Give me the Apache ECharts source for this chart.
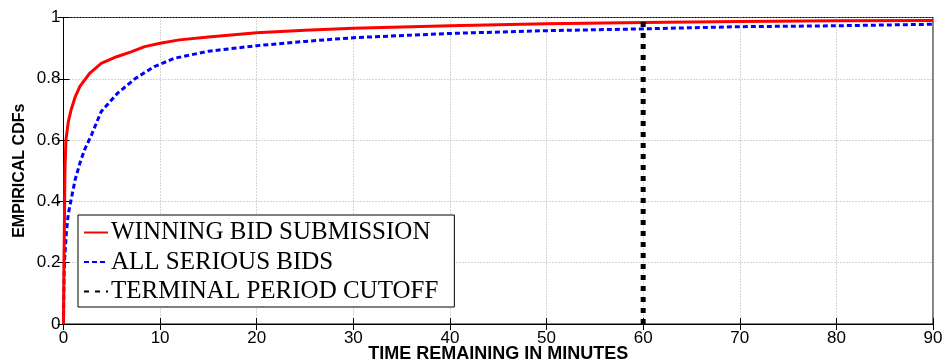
<!DOCTYPE html>
<html>
<head>
<meta charset="utf-8">
<script src="https://cdn.jsdelivr.net/npm/echarts@6/dist/echarts.min.js"></script>
<style>html,body{margin:0;padding:0;background:#fff}#c{width:946px;height:362px}</style>
</head>
<body>
<div id="c"></div>
<script>
// Data
const xTicks = [0, 10, 20, 30, 40, 50, 60, 70, 80, 90];
const yTicks = [0, 0.2, 0.4, 0.6, 0.8, 1];
const winningX = [0, 0.05, 0.1, 0.15, 0.25, 0.5, 0.8, 1.2, 1.7, 2.7, 3.9, 5.5, 7, 8.4, 10, 12, 15, 20, 25, 30, 40, 50, 60, 70, 80, 90];
const winningY = [0, 0.2, 0.35, 0.5, 0.6, 0.66, 0.7, 0.74, 0.775, 0.818, 0.85, 0.872, 0.888, 0.905, 0.916, 0.927, 0.936, 0.95, 0.958, 0.965, 0.973, 0.98, 0.984, 0.987, 0.989, 0.99];
const allBidsX = [0, 0.05, 0.1, 0.3, 0.5, 0.75, 1.2, 1.7, 2.2, 2.9, 3.9, 5.6, 7.4, 9.4, 11.5, 15, 20, 25, 30, 40, 50, 60, 70, 80, 90];
const allBidsY = [0, 0.15, 0.2, 0.3, 0.36, 0.4, 0.47, 0.525, 0.57, 0.617, 0.693, 0.753, 0.8, 0.84, 0.867, 0.89, 0.908, 0.922, 0.934, 0.948, 0.957, 0.963, 0.97, 0.973, 0.978];
const cutoffX = [60, 60];
const cutoffY = [0, 1];
const seriesNames = ['WINNING BID SUBMISSION', 'ALL SERIOUS BIDS', 'TERMINAL PERIOD CUTOFF'];
const xName = 'TIME REMAINING IN MINUTES';
const yName = 'EMPIRICAL CDFs';

const zip = (a, b) => a.map((v, i) => [v, b[i]]);
const chart = echarts.init(document.getElementById('c'), null, {renderer: 'canvas'});
const labelFont = {fontFamily: 'Liberation Sans, Arial, sans-serif', fontSize: 17, color: '#000'};
const dotted = {show: true, lineStyle: {color: '#aaaaaa', type: [1, 2], width: 1}};
chart.setOption({
  animation: false,
  grid: {left: 63.5, right: 13, top: 17.5, bottom: 38, show: true, borderColor: '#000', borderWidth: 1, outerBoundsMode: 'none', containLabel: false},
  legend: {
    orient: 'vertical', left: 78, top: 215,
    backgroundColor: '#fff', borderColor: '#000', borderWidth: 1,
    padding: [5, 16, 3, 5], itemGap: 4.5, itemWidth: 24, itemHeight: 20,
    itemStyle: {opacity: 0},
    textStyle: {fontFamily: 'Liberation Serif, Times New Roman, serif', fontSize: 25, color: '#000', padding: [0, 0, 0, -2]},
    data: seriesNames
  },
  xAxis: [{
    type: 'value', min: 0, max: 90, interval: 10, position: 'bottom',
    name: xName, nameLocation: 'middle', nameGap: 21, nameMoveOverlap: false,
    nameTextStyle: {fontFamily: 'Liberation Sans, Arial, sans-serif', fontSize: 18, fontWeight: 'bold', color: '#000'},
    axisLine: {lineStyle: {color: '#000', width: 1}},
    axisTick: {inside: true, length: 6, lineStyle: {color: '#000'}},
    axisLabel: Object.assign({margin: 6, formatter: v => xTicks.includes(v) ? String(v) : ''}, labelFont),
    splitLine: dotted
  }, {
    type: 'value', min: 0, max: 90, interval: 10, position: 'top',
    axisLine: {lineStyle: {color: '#000'}},
    axisTick: {inside: true, length: 6, lineStyle: {color: '#000'}},
    axisLabel: {show: false}, splitLine: {show: false}
  }],
  yAxis: [{
    type: 'value', min: 0, max: 1, interval: 0.2, position: 'left',
    name: yName, nameLocation: 'middle', nameGap: 36, nameMoveOverlap: false,
    nameTextStyle: {fontFamily: 'Liberation Sans, Arial, sans-serif', fontSize: 16, fontWeight: 'bold', color: '#000'},
    axisLine: {show: true, lineStyle: {color: '#000', width: 1}},
    axisTick: {show: true, inside: true, length: 6, lineStyle: {color: '#000'}},
    axisLabel: Object.assign({margin: 3, formatter: v => {const t = yTicks.find(k => Math.abs(k - v) < 1e-9); return t === undefined ? '' : String(t);}}, labelFont),
    splitLine: dotted
  }, {
    type: 'value', min: 0, max: 1, interval: 0.2, position: 'right',
    axisLine: {show: true, lineStyle: {color: '#000'}},
    axisTick: {show: true, inside: true, length: 6, lineStyle: {color: '#000'}},
    axisLabel: {show: false}, splitLine: {show: false}
  }],
  series: [{
    name: seriesNames[0], type: 'line', data: zip(winningX, winningY), symbol: 'none', smooth: false,
    lineStyle: {color: '#ff0000', width: 3}, itemStyle: {color: '#ff0000'}, z: 3
  }, {
    name: seriesNames[1], type: 'line', data: zip(allBidsX, allBidsY), symbol: 'none',
    lineStyle: {color: '#0000ff', width: 3, type: [5, 3]}, itemStyle: {color: '#0000ff'}, z: 2
  }, {
    name: seriesNames[2], type: 'line', data: zip(cutoffX, cutoffY), symbol: 'none',
    lineStyle: {color: '#000', width: 5, type: [5, 6]}, itemStyle: {color: '#000'}, z: 4
  }]
});
</script>
</body>
</html>
